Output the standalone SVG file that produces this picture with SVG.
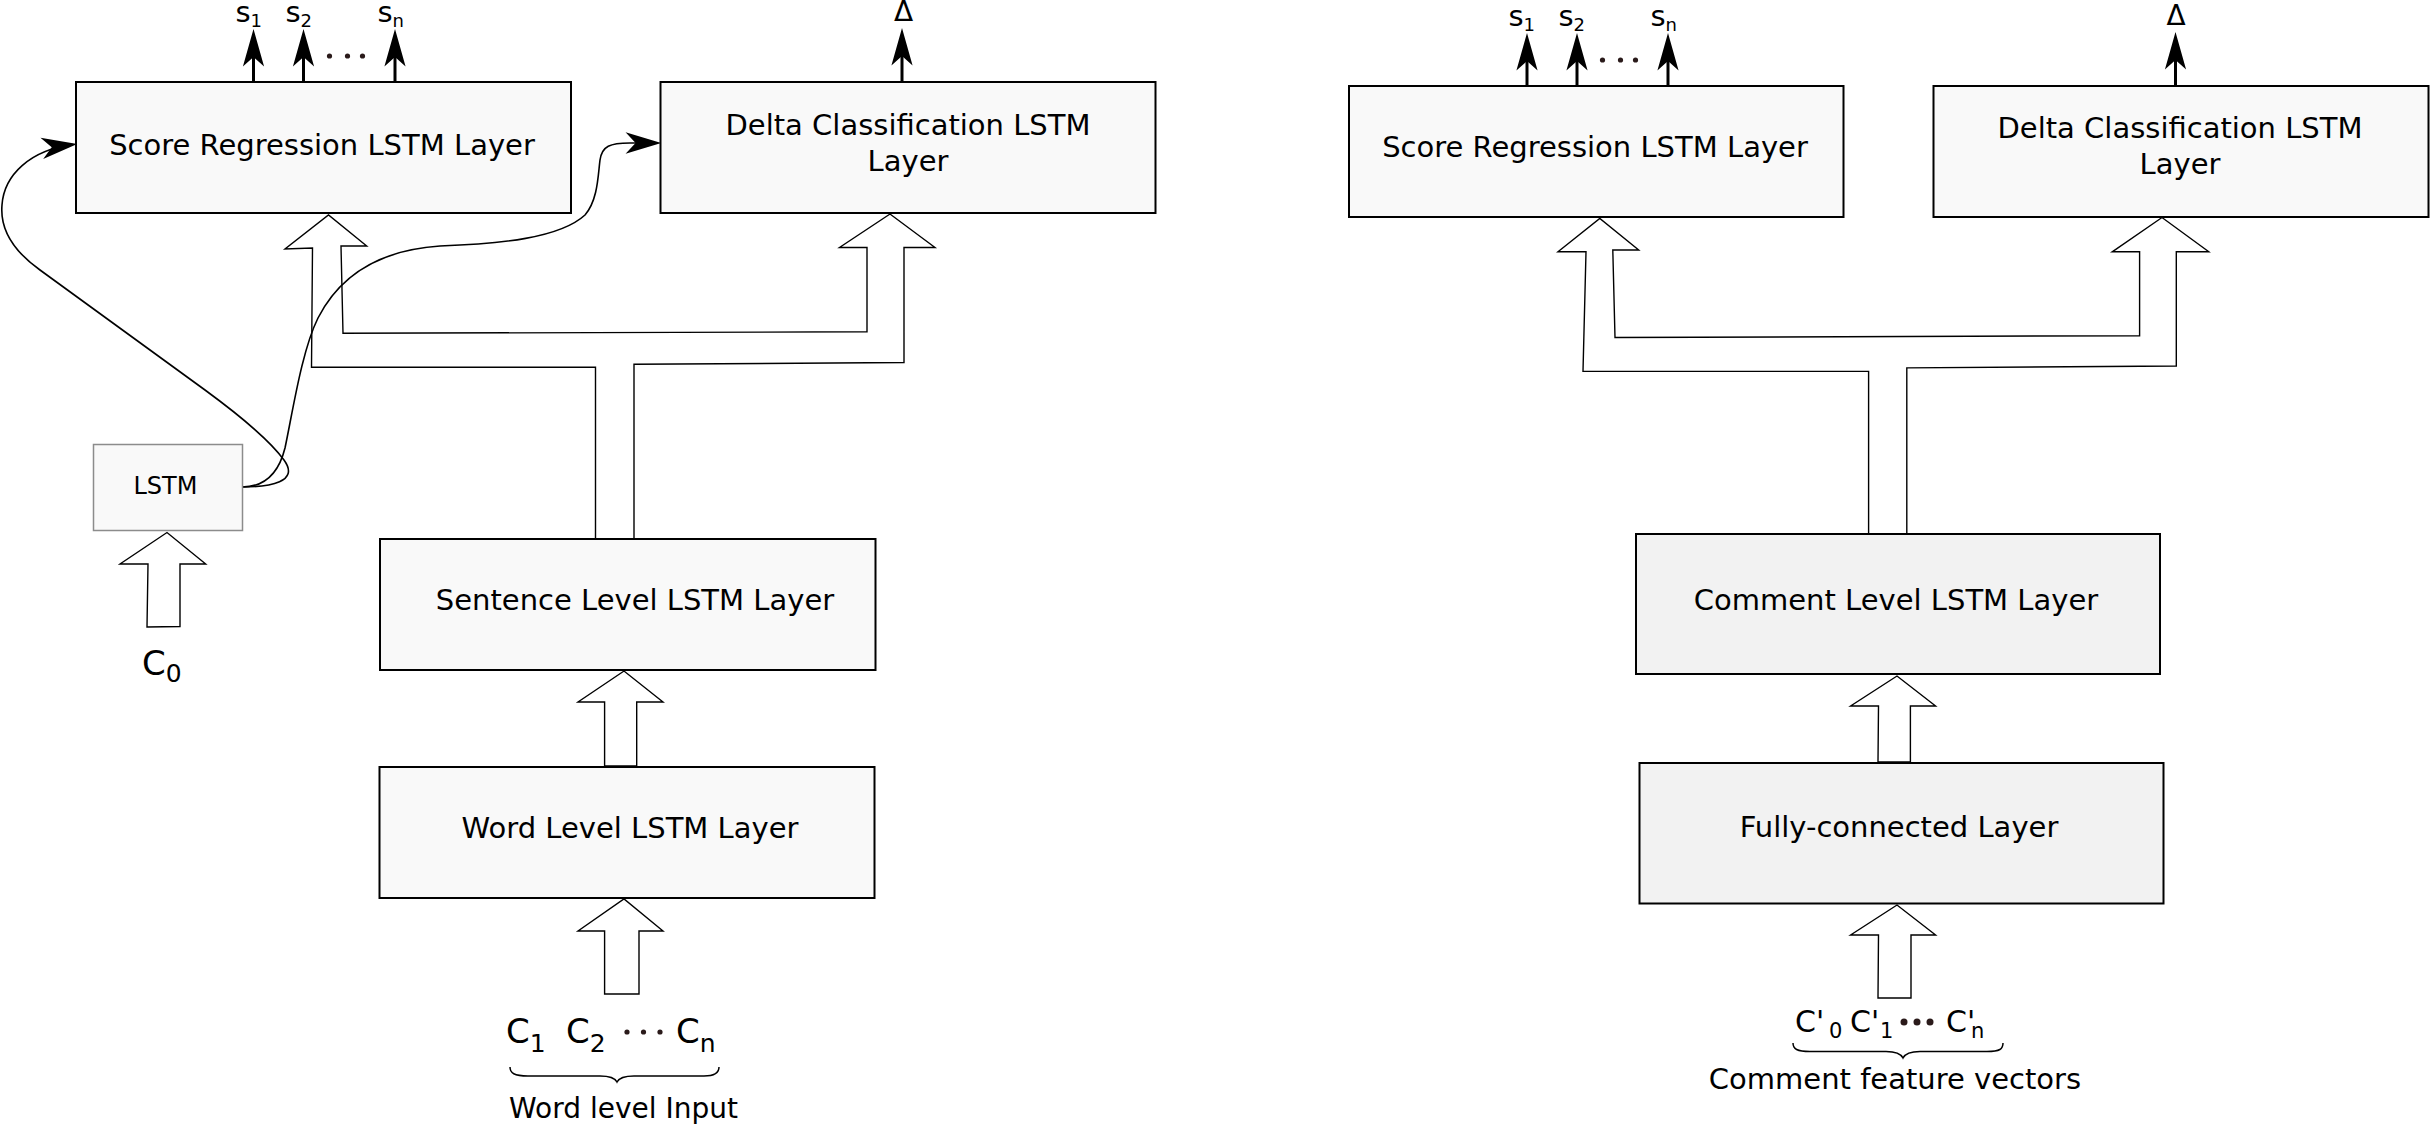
<svg xmlns="http://www.w3.org/2000/svg" width="2430" height="1128" viewBox="0 0 2430 1128">
<style>
.box{fill:#f9f9f9;stroke:#000;stroke-width:2}
.box2{fill:#f2f2f2;stroke:#000;stroke-width:2}
.sbox{fill:#f9f9f9;stroke:#8c8c8c;stroke-width:1.5}
.blk{fill:#fff;stroke:#000;stroke-width:1.4;stroke-linejoin:miter}
.out{fill:none;stroke:#000;stroke-width:3}
.crv{fill:none;stroke:#000;stroke-width:1.6}
.brace{fill:none;stroke:#000;stroke-width:1.5}
.t{font-family:"DejaVu Sans","Liberation Sans",sans-serif;font-size:29px;fill:#000}
.tc{text-anchor:middle}
.lbl{font-family:"DejaVu Sans","Liberation Sans",sans-serif;font-size:28px;fill:#000}
.sl{font-family:"DejaVu Sans","Liberation Sans",sans-serif;font-size:29px;fill:#000}
.sub{font-size:18px}
.big{font-family:"DejaVu Sans","Liberation Sans",sans-serif;font-size:34px;fill:#000}
.bsub{font-size:25px}
.mid{font-family:"DejaVu Sans","Liberation Sans",sans-serif;font-size:30px;fill:#000}
.msub{font-size:21px}
.dot{fill:#2a1a1a}
</style>
<defs>
<marker id="hThick" markerUnits="userSpaceOnUse" markerWidth="40" markerHeight="30" viewBox="-20 -10 34 20" refX="0" refY="0" orient="auto" overflow="visible">
<path d="M12,0 L-20,-9 L-12,0 L-20,9 Z" fill="#000"/>
</marker>
<marker id="hThin" markerUnits="userSpaceOnUse" markerWidth="40" markerHeight="30" viewBox="-24 -8 28 16" refX="0" refY="0" orient="auto" overflow="visible">
<path d="M3,0 L-22,-7.5 L-15,0 L-22,7.5 Z" fill="#000"/>
</marker>
</defs>
<rect width="2430" height="1128" fill="#fff"/>

<g id="connectors">
<!-- left network block arrows -->
<path class="blk" d="M595.5,539 L595.5,367.3 L311.5,367.3 L312.5,248 L285,249 L328.5,215 L366.7,246 L341,246 L343,333.3 L867,331.8 L867,247.5 L839.5,247.5 L890,214 L935,247.5 L904,247.5 L904,362.5 L634,364.3 L634,539"/>
<path class="blk" d="M604.6,766 L604.6,702 L578,702 L624,671 L663,702 L636.7,702 L636.7,766 Z"/>
<path class="blk" d="M604.6,994 L604.6,931 L578,931 L624,899 L663,931 L639,931 L639,994 Z"/>
<path class="blk" d="M147,627 L148,564 L120,564 L167,532.5 L205.7,564 L180,564 L180,626.5 Z"/>
<!-- left outputs -->
<line class="out" x1="253.5" y1="82" x2="253.5" y2="43" marker-end="url(#hThick)"/>
<line class="out" x1="303.5" y1="82" x2="303.5" y2="43" marker-end="url(#hThick)"/>
<line class="out" x1="395" y1="82" x2="395" y2="43" marker-end="url(#hThick)"/>
<line class="out" x1="902" y1="82" x2="902" y2="42" marker-end="url(#hThick)"/>
<!-- LSTM feedback curves -->
<path class="crv" d="M242,487 C270,487 300,482 284,460 C268,438 235,412 205,390 L40,270 C12,250 0,228 2,205 C4,175 30,150 73,144.5" marker-end="url(#hThin)"/>
<path class="crv" d="M242,487 C266,487 279,472 285,448 C293,410 302,350 318,318 C340,275 380,250 440,246 C500,244 560,238 585,215 C598,200 598,175 600,160 C602,146 610,143 630,143 L657,143" marker-end="url(#hThin)"/>
<!-- right network block arrows -->
<path class="blk" d="M1868.6,533.5 L1868.6,371.4 L1583,371.4 L1586,251.8 L1558,251.8 L1599.8,218.5 L1638.7,250 L1612.8,250 L1615,337.5 L2139.6,335.7 L2139.6,251.8 L2112.2,251.8 L2162,217.5 L2208.8,251.8 L2176.3,251.8 L2176.3,366 L1906.8,367.9 L1906.8,533.5"/>
<path class="blk" d="M1878,762 L1878.5,706 L1850.6,706 L1897,676 L1935.6,706 L1910.4,706 L1910.4,762 Z"/>
<path class="blk" d="M1878,998 L1878.5,935 L1850.6,935 L1897,905 L1935.6,935 L1911,935 L1911,998 Z"/>
<!-- right outputs -->
<line class="out" x1="1527" y1="86" x2="1527" y2="47" marker-end="url(#hThick)"/>
<line class="out" x1="1577" y1="86" x2="1577" y2="47" marker-end="url(#hThick)"/>
<line class="out" x1="1668" y1="86" x2="1668" y2="47" marker-end="url(#hThick)"/>
<line class="out" x1="2175.5" y1="86" x2="2175.5" y2="46" marker-end="url(#hThick)"/>
</g>

<g id="node-score-left">
<rect class="box" x="76" y="82" width="495" height="131"/>
<text class="t tc" x="322" y="155">Score Regression LSTM Layer</text>
</g>
<g id="node-delta-left">
<rect class="box" x="660.5" y="82" width="495" height="131"/>
<text class="t tc" x="908" y="135">Delta Classification LSTM</text>
<text class="t tc" x="908" y="170.5">Layer</text>
</g>
<g id="node-lstm">
<rect class="sbox" x="93.5" y="444.5" width="149" height="86"/>
<text class="lbl tc" x="165.5" y="494" style="font-size:24px">LSTM</text>
</g>
<g id="node-sentence">
<rect class="box" x="380" y="539" width="495.5" height="131"/>
<text class="t tc" x="635" y="610">Sentence Level LSTM Layer</text>
</g>
<g id="node-word">
<rect class="box" x="379.5" y="767" width="495" height="131"/>
<text class="t tc" x="630" y="838">Word Level LSTM Layer</text>
</g>
<g id="node-score-right">
<rect class="box" x="1349" y="86" width="494.5" height="131"/>
<text class="t tc" x="1595" y="157">Score Regression LSTM Layer</text>
</g>
<g id="node-delta-right">
<rect class="box" x="1933.5" y="86" width="495" height="131"/>
<text class="t tc" x="2180" y="138">Delta Classification LSTM</text>
<text class="t tc" x="2180" y="174">Layer</text>
</g>
<g id="node-comment">
<rect class="box2" x="1636" y="534" width="524" height="140"/>
<text class="t tc" x="1896" y="610">Comment Level LSTM Layer</text>
</g>
<g id="node-fc">
<rect class="box2" x="1639.5" y="763" width="524" height="140.5"/>
<text class="t tc" x="1899" y="837">Fully-connected Layer</text>
</g>

<g id="labels-left">
<text class="sl" x="235.5" y="22">s<tspan class="sub" y="27">1</tspan></text>
<text class="sl" x="285.5" y="22">s<tspan class="sub" y="27">2</tspan></text>
<text class="sl" x="377.5" y="22">s<tspan class="sub" y="27">n</tspan></text>
<circle class="dot" cx="329.5" cy="56" r="2.6"/>
<circle class="dot" cx="347.5" cy="56" r="2.6"/>
<circle class="dot" cx="362.5" cy="56" r="2.6"/>
<text class="lbl tc" x="903.5" y="21">Δ</text>
<text class="big" x="142" y="675">C<tspan class="bsub" y="681.5">0</tspan></text>
<text class="big" x="506" y="1043">C<tspan class="bsub" y="1051.5">1</tspan></text>
<text class="big" x="566" y="1043">C<tspan class="bsub" y="1051.5">2</tspan></text>
<circle class="dot" cx="627" cy="1032" r="2.6"/>
<circle class="dot" cx="643.5" cy="1032" r="2.6"/>
<circle class="dot" cx="660" cy="1032" r="2.6"/>
<text class="big" x="676" y="1043">C<tspan class="bsub" y="1051.5">n</tspan></text>
<path class="brace" d="M510,1067 C510,1073 514,1076 528,1076 L600,1076 C610,1076 615,1078 617,1082 C619,1078 624,1076 634,1076 L704,1076 C715,1076 719,1073 719,1067"/>
<text class="lbl tc" x="623.5" y="1118">Word level Input</text>
</g>

<g id="labels-right">
<text class="sl" x="1508.5" y="26">s<tspan class="sub" y="31">1</tspan></text>
<text class="sl" x="1558.5" y="26">s<tspan class="sub" y="31">2</tspan></text>
<text class="sl" x="1650.5" y="26">s<tspan class="sub" y="31">n</tspan></text>
<circle class="dot" cx="1602.5" cy="60" r="2.6"/>
<circle class="dot" cx="1620.5" cy="60" r="2.6"/>
<circle class="dot" cx="1635.5" cy="60" r="2.6"/>
<text class="lbl tc" x="2176" y="25">Δ</text>
<text class="mid" x="1795" y="1031.5">C'<tspan class="msub" x="1829" y="1038">0</tspan></text>
<text class="mid" x="1850" y="1031.5">C'<tspan class="msub" x="1880" y="1038">1</tspan></text>
<circle class="dot" cx="1904" cy="1022" r="3.5"/>
<circle class="dot" cx="1917" cy="1022" r="3.5"/>
<circle class="dot" cx="1930" cy="1022" r="3.5"/>
<text class="mid" x="1946" y="1031.5">C'<tspan class="msub" x="1971" y="1038">n</tspan></text>
<path class="brace" d="M1793,1043 C1793,1049 1797,1051.5 1810,1051.5 L1886,1051.5 C1896,1051.5 1901,1054 1903,1058 C1905,1054 1910,1051.5 1920,1051.5 L1987,1051.5 C2000,1051.5 2003,1049 2003,1043"/>
<text class="lbl tc" x="1895" y="1089" style="font-size:29px">Comment feature vectors</text>
</g>
</svg>
